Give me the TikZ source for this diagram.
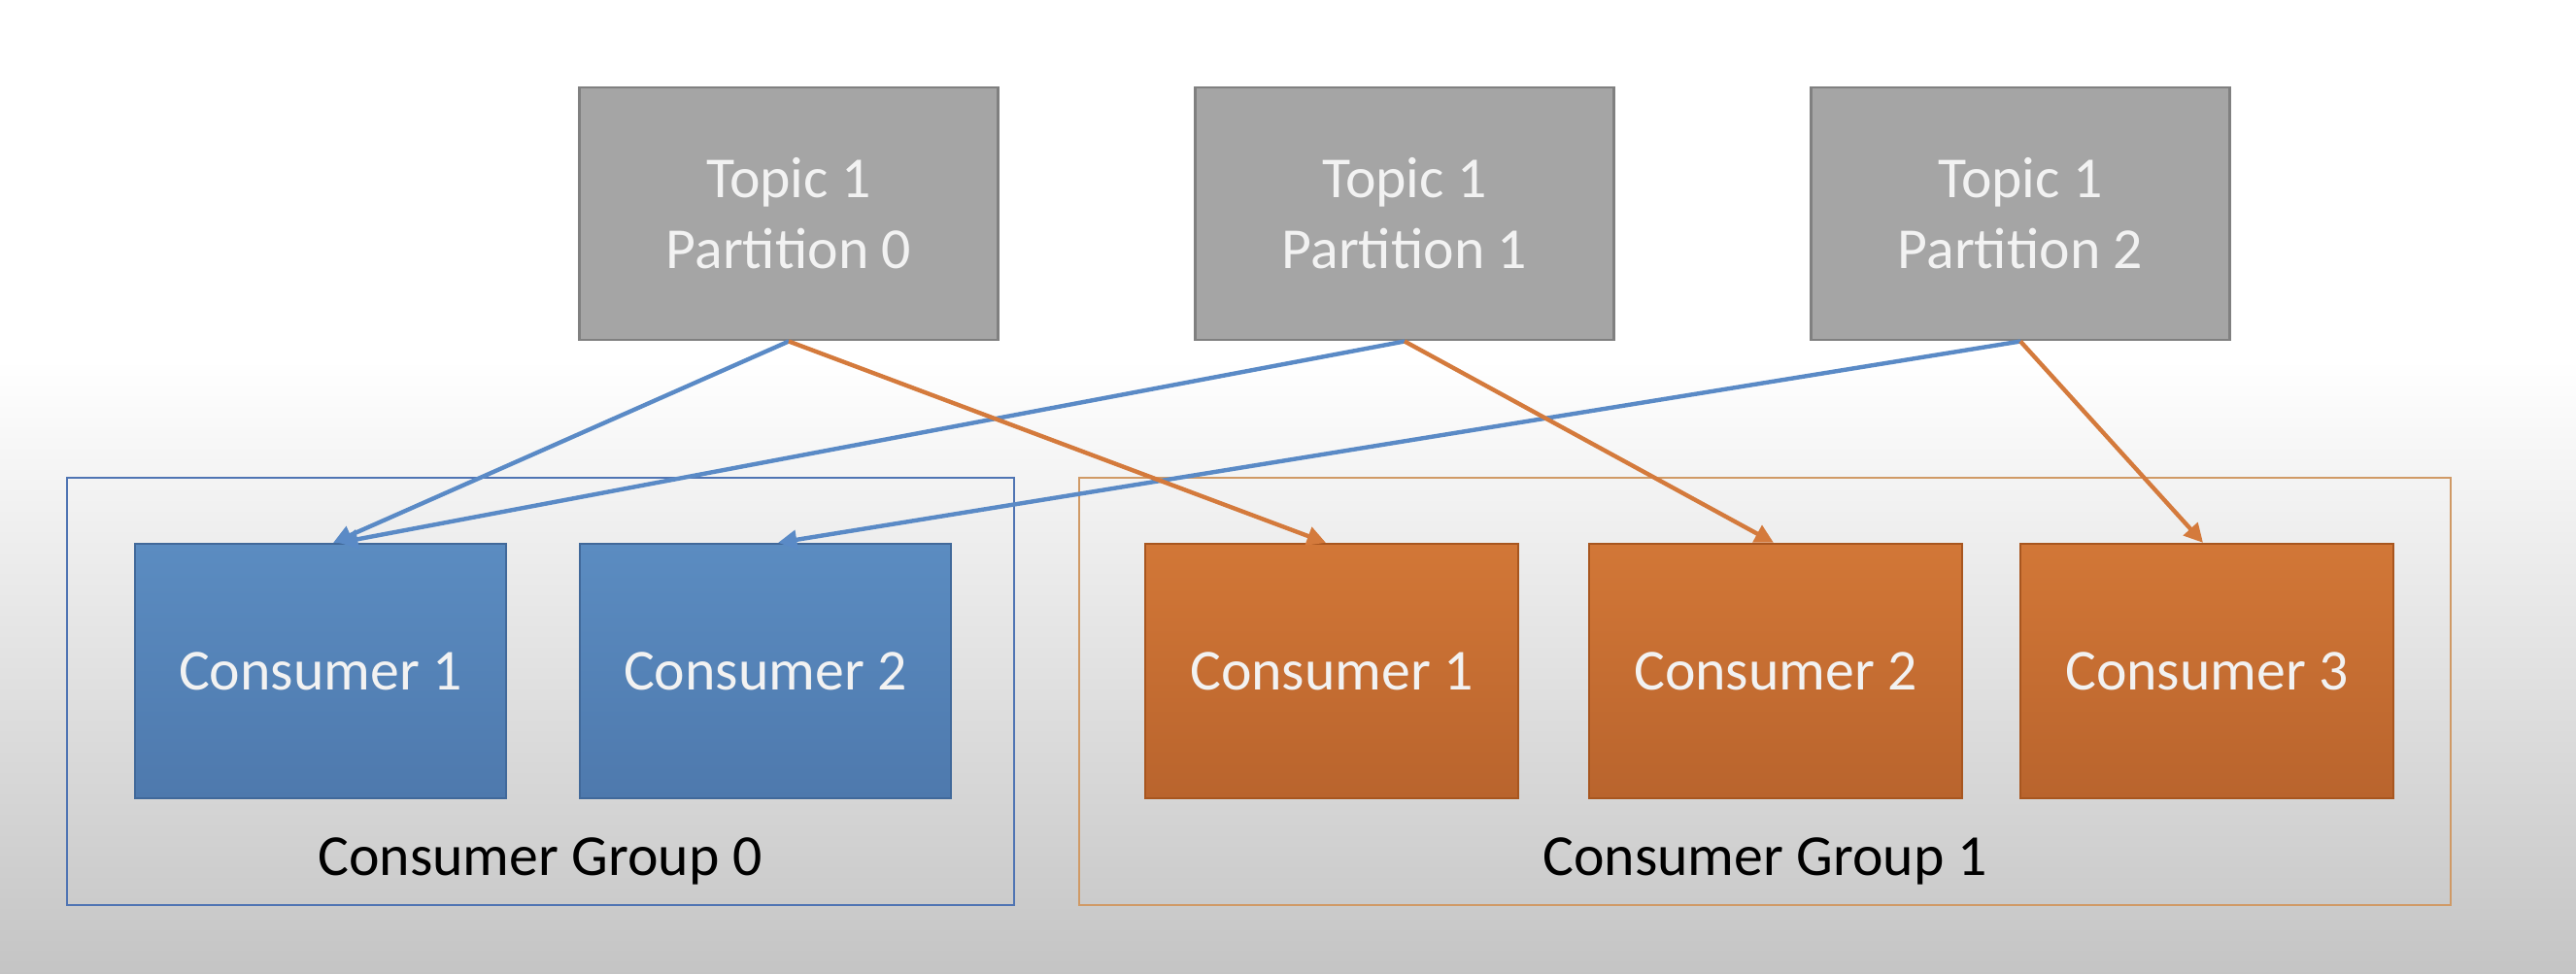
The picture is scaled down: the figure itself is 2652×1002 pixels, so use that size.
\documentclass[tikz,border=0pt]{standalone}
\usepackage{fontspec}
\setmainfont{Carlito}
\usetikzlibrary{arrows.meta}
\definecolor{topicfill}{HTML}{A5A5A5}
\definecolor{topicdraw}{HTML}{808080}
\definecolor{bluetop}{HTML}{5B8CC1}
\definecolor{bluebot}{HTML}{4E79AD}
\definecolor{bluedraw}{HTML}{41699A}
\definecolor{orangetop}{HTML}{D27737}
\definecolor{orangebot}{HTML}{B9642D}
\definecolor{orangedraw}{HTML}{A8561F}
\definecolor{blueline}{HTML}{5A8AC6}
\definecolor{orangeline}{HTML}{D47A3C}
\definecolor{groupblue}{HTML}{4F74B3}
\definecolor{grouporange}{HTML}{D09A66}
\definecolor{boxtext}{HTML}{F2F2F2}
\tikzset{
  boxfont/.style={font=\fontsize{17}{20.7}\selectfont},
  topicbox/.style={boxfont, draw=topicdraw, line width=0.8pt, fill=topicfill,
    text=boxtext, minimum width=4.3cm, minimum height=2.6cm, align=center, inner sep=0pt},
  bluebox/.style={boxfont, draw=bluedraw, line width=0.6pt, top color=bluetop, bottom color=bluebot,
    text=boxtext, minimum width=3.82cm, minimum height=2.62cm, inner sep=0pt},
  orangebox/.style={boxfont, draw=orangedraw, line width=0.6pt, top color=orangetop, bottom color=orangebot,
    text=boxtext, minimum width=3.84cm, minimum height=2.62cm, inner sep=0pt},
  groupframe/.style={line width=0.8pt},
  grouplabel/.style={boxfont, text=black, inner sep=0pt},
  bluearrow/.style={draw=blueline, line width=1.25pt, -{Triangle[length=5.5pt,width=5.5pt]}},
  orangearrow/.style={draw=orangeline, line width=1.25pt, -{Triangle[length=5.5pt,width=5.5pt]}},
}
\begin{document}
\begin{tikzpicture}[x=0.01cm, y=-0.01cm]
  % background
  \useasboundingbox (0,0) rectangle (2652,1002);
  \fill[white] (0,0) rectangle (2652,372);
  \shade[top color=white, bottom color=black!23] (0,370) rectangle (2652,1002);

  % group frames
  \draw[groupframe, draw=groupblue] (69,492) rectangle (1044,932);
  \draw[groupframe, draw=grouporange] (1111,492) rectangle (2523,932);
  \node[grouplabel] (g0) at (556,887) {Consumer Group 0};
  \node[grouplabel] (g1) at (1817,887) {Consumer Group 1};

  % topic partitions
  \node[topicbox] (p0) at (812,220) {Topic 1\\Partition 0};
  \node[topicbox] (p1) at (1446,220) {Topic 1\\Partition 1};
  \node[topicbox] (p2) at (2080,220) {Topic 1\\Partition 2};

  % consumers
  \node[bluebox] (b1) at (330,691) {Consumer 1};
  \node[bluebox] (b2) at (788,691) {Consumer 2};
  \node[orangebox] (o1) at (1371,691) {Consumer 1};
  \node[orangebox] (o2) at (1828,691) {Consumer 2};
  \node[orangebox] (o3) at (2272,691) {Consumer 3};

  % connectors
  \draw[bluearrow] (p0.south) -- ([xshift=0.13cm]b1.north);
  \draw[bluearrow] (p1.south) -- ([xshift=0.19cm]b1.north);
  \draw[bluearrow] (p2.south) -- ([xshift=0.13cm]b2.north);
  \draw[orangearrow] (p0.south) -- ([xshift=-0.06cm]o1.north);
  \draw[orangearrow] (p1.south) -- ([xshift=-0.02cm]o2.north);
  \draw[orangearrow] (p2.south) -- ([xshift=-0.04cm]o3.north);
\end{tikzpicture}
\end{document}
